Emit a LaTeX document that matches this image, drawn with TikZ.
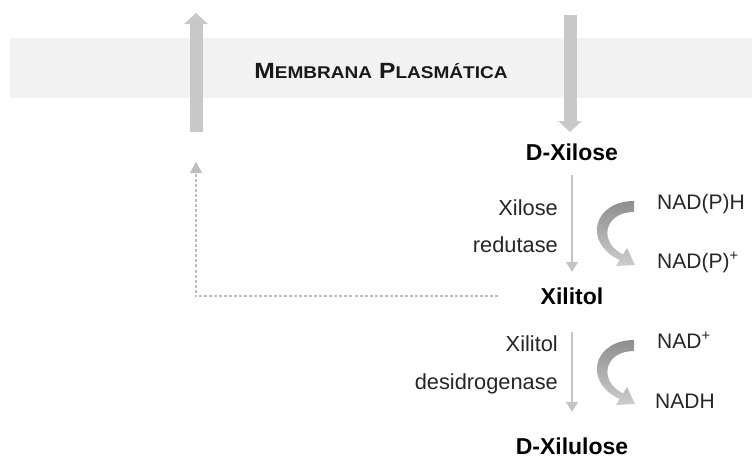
\documentclass[tikz,border=0pt]{standalone}
\usepackage{fontspec}
\setmainfont{Liberation Sans}
\usetikzlibrary{arrows.meta}

\definecolor{bandgray}{HTML}{F2F2F2}
\definecolor{bigarrow}{HTML}{C8C8C8}
\definecolor{thinarrow}{HTML}{C4C4C4}
\definecolor{dashgray}{HTML}{BDBDBD}
\definecolor{labeltext}{HTML}{262626}
\definecolor{curvetop}{HTML}{8E8E8E}
\definecolor{curvebot}{HTML}{CDCDCD}

\newcommand{\smallcapsf}[1]{{\fontsize{17}{20}\selectfont #1}}

\tikzset{
  metabolite/.style={inner sep=0pt, font=\fontsize{23}{27}\selectfont\bfseries, text=black},
  enzyme/.style={inner sep=0pt, anchor=base east, font=\fontsize{21.8}{25}\selectfont, text=labeltext},
  cofactor/.style={inner sep=0pt, anchor=base west, font=\fontsize{21}{25}\selectfont, text=labeltext},
  transport/.style={draw=bigarrow, line width=13pt, -{Triangle[width=23pt,length=11pt]}},
  reaction/.style={draw=thinarrow, line width=1.8pt, -{Triangle[width=12pt,length=10pt]}},
  export/.style={draw=dashgray, line width=1.2pt, dash pattern=on 3pt off 2pt, -{Triangle[width=12pt,length=11pt]}},
  cofactorarrow/.style={top color=curvetop, bottom color=curvebot, draw=none},
}

\begin{document}
\begin{tikzpicture}[x=1pt,y=-1pt]
\useasboundingbox (0,0) rectangle (752,458);

% plasma membrane band
\fill[bandgray] (10,38) rectangle (752,98);
\node[inner sep=0pt, anchor=base, text=black!90, font=\fontsize{22}{26}\selectfont\bfseries]
  (membrane) at (381,78.5) {\scalebox{1.12}[1]{M\smallcapsf{EMBRANA} P\smallcapsf{LASMÁTICA}}};

% transport across the membrane
\coordinate (outbot) at (196,132);
\coordinate (outtop) at (196,13);
\coordinate (intop) at (570,15);
\coordinate (inbot) at (570,132);
\draw[transport] (outbot) -- (outtop);
\draw[transport] (intop) -- (inbot);

% metabolites
\node[metabolite] (xilose)   at (572,152) {D-Xilose};
\node[metabolite] (xilitol)  at (572,296) {Xilitol};
\node[metabolite] (xilulose) at (572,446) {D-Xilulose};

% reaction steps
\draw[reaction, shorten <=14.5pt, shorten >=15.5pt] (xilose) -- (xilitol);
\draw[reaction, shorten <=27.5pt, shorten >=25.5pt] (xilitol) -- (xilulose);

% enzymes
\node[enzyme] (xr1) at (558,215) {Xilose};
\node[enzyme] (xr2) at (558,252) {redutase};
\node[enzyme] (xd1) at (558,351.5) {Xilitol};
\node[enzyme] (xd2) at (558,389) {desidrogenase};

% cofactors
\node[cofactor] (nadph) at (657,209.5) {NAD(P)H};
\node[cofactor] (nadp)  at (657,268) {NAD(P)\textsuperscript{+}};
\node[cofactor] (nad)   at (657,348) {NAD\textsuperscript{+}};
\node[cofactor] (nadh)  at (655,408) {NADH};

% curved cofactor arrows
\foreach \dy in {0,139}{
  \shade[cofactorarrow, shift={(0,\dy)}]
    (634,201) .. controls (594,201) and (582,242) .. (619.6,260.1)
    -- (616,266) -- (635,265) -- (627,248) -- (623,254.5)
    .. controls (598,242) and (604,212) .. (634,212) -- cycle;
}

% xylitol export (dashed)
\draw[export, shorten <=43pt, shorten >=30pt] (xilitol.west) -| (outbot);

\end{tikzpicture}
\end{document}
